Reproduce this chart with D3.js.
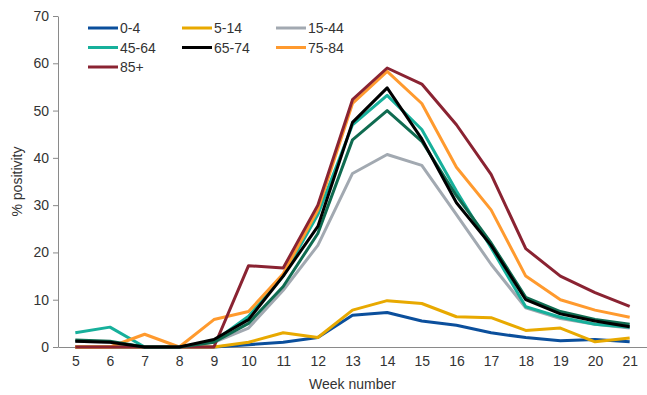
<!DOCTYPE html>
<html>
<head>
<meta charset="utf-8">
<script src="https://cdn.jsdelivr.net/npm/d3@7"></script>
<style>
  body { margin: 0; background: #fff; }
  text { font-family: "Liberation Sans", Arial, sans-serif; fill: #333; }
</style>
</head>
<body>
<div id="chart"></div>
<script>
// Data
const weeks = [5, 6, 7, 8, 9, 10, 11, 12, 13, 14, 15, 16, 17, 18, 19, 20, 21];
const yTicks = [0, 10, 20, 30, 40, 50, 60, 70];

const age0_4   = [0, 0, 0, 0, 0, 0.5, 1, 2, 6.7, 7.3, 5.5, 4.6, 3.0, 2.0, 1.3, 1.6, 1.1];
const age5_14  = [0, 0, 0, 0, 0, 1.0, 3.0, 2.0, 7.8, 9.8, 9.2, 6.4, 6.2, 3.5, 4.0, 1.1, 1.9];
const age15_44 = [1.2, 1.0, 0, 0, 1.0, 4.0, 12, 21.5, 36.7, 40.7, 38.4, 28, 17.5, 8.3, 6.0, 4.8, 4.0];
const age45_64 = [3.0, 4.2, 0, 0, 1.2, 6.5, 15, 28, 47, 53.2, 46, 33, 21, 8.5, 6.3, 4.8, 4.2];
const age65_74 = [1.2, 1.0, 0, 0, 1.6, 5.8, 15, 25.5, 47.5, 54.8, 44, 30.5, 21.5, 10, 7, 5.5, 4.3];
const age75_84 = [0, 0, 2.7, 0, 5.8, 7.5, 15.5, 29, 51.5, 58.3, 51.5, 38, 29, 15, 10, 7.8, 6.3];
const age85    = [0, 0, 0, 0, 0, 17.2, 16.7, 30, 52.3, 59, 55.6, 47, 36.5, 20.8, 15, 11.5, 8.6];
const allAges  = [1.5, 1.2, 0, 0, 1.0, 5.0, 12.8, 24, 43.8, 50, 43.5, 32, 22, 10.5, 7.5, 5.8, 4.8];

// draw order matters (later on top)
const series = [
  { name: "0-4",   values: age0_4,   color: "#0b4f9c", legend: true },
  { name: "5-14",  values: age5_14,  color: "#e8a900", legend: true },
  { name: "15-44", values: age15_44, color: "#a2a9b1", legend: true },
  { name: "45-64", values: age45_64, color: "#17b09b", legend: true },
  { name: "75-84", values: age75_84, color: "#ff9a2e", legend: true },
  { name: "85+",   values: age85,    color: "#8a2332", legend: true },
  { name: "all",   values: allAges,  color: "#0f6b50", legend: false },
  { name: "65-74", values: age65_74, color: "#000000", legend: true }
];
const legendOrder = ["0-4", "5-14", "15-44", "45-64", "65-74", "75-84", "85+"];

const width = 647;
const height = 395;
const margin = { top: 16, right: 0, bottom: 48, left: 58 };
const fontSize = 14;

const svg = d3.select("#chart")
  .append("svg")
  .attr("width", width)
  .attr("height", height);

const x = d3.scaleLinear()
  .domain([4.5, 21.5])
  .range([margin.left, width - margin.right]);

const y = d3.scaleLinear()
  .domain([0, 70])
  .range([height - margin.bottom, margin.top]);

const axisColor = "#8a8a8a";

// X axis: tick marks between weeks, labels centred on weeks
const xAxis = svg.append("g")
  .attr("transform", `translate(0,${y(0)})`);
xAxis.call(d3.axisBottom(x).tickValues(weeks.map(w => w - 0.5).concat([21.5])).tickSize(5).tickFormat(""));
xAxis.call(d3.axisBottom(x).tickValues(weeks).tickSize(0).tickPadding(9).tickFormat(d3.format("d")));
xAxis.selectAll("path").attr("stroke", axisColor);
xAxis.selectAll("line").attr("stroke", axisColor);
xAxis.selectAll("text").attr("font-size", fontSize).attr("fill", "#333")
  .attr("font-family", "'Liberation Sans', Arial, sans-serif");

// Y axis
const yAxis = svg.append("g")
  .attr("transform", `translate(${margin.left},0)`)
  .call(d3.axisLeft(y).tickValues(yTicks).tickSize(5).tickSizeOuter(0).tickPadding(4));
yAxis.selectAll("path").attr("stroke", axisColor);
yAxis.selectAll("line").attr("stroke", axisColor);
yAxis.selectAll("text").attr("font-size", fontSize).attr("fill", "#333")
  .attr("font-family", "'Liberation Sans', Arial, sans-serif");

// Axis titles
svg.append("text")
  .attr("x", (margin.left + width) / 2)
  .attr("y", 389)
  .attr("text-anchor", "middle")
  .attr("font-size", fontSize)
  .text("Week number");

svg.append("text")
  .attr("transform", `translate(22,${(y(0) + y(70)) / 2}) rotate(-90)`)
  .attr("text-anchor", "middle")
  .attr("font-size", fontSize)
  .text("% positivity");

// Lines
const line = d3.line()
  .x((d, i) => x(weeks[i]))
  .y(d => y(d));

svg.append("g")
  .selectAll("path")
  .data(series)
  .join("path")
  .attr("fill", "none")
  .attr("stroke", d => d.color)
  .attr("stroke-width", 3)
  .attr("stroke-linejoin", "round")
  .attr("d", d => line(d.values));

// Legend
const legendItems = legendOrder.map(n => series.find(s => s.name === n));
const legend = svg.append("g");
legendItems.forEach((s, i) => {
  const col = i % 3;
  const row = Math.floor(i / 3);
  const lx = 88 + col * 94;
  const ly = 28 + row * 19.5;
  legend.append("line")
    .attr("x1", lx).attr("x2", lx + 30)
    .attr("y1", ly).attr("y2", ly)
    .attr("stroke", s.color)
    .attr("stroke-width", 3);
  legend.append("text")
    .attr("x", lx + 32)
    .attr("y", ly + 5)
    .attr("font-size", fontSize)
    .text(s.name);
});
</script>
</body>
</html>
